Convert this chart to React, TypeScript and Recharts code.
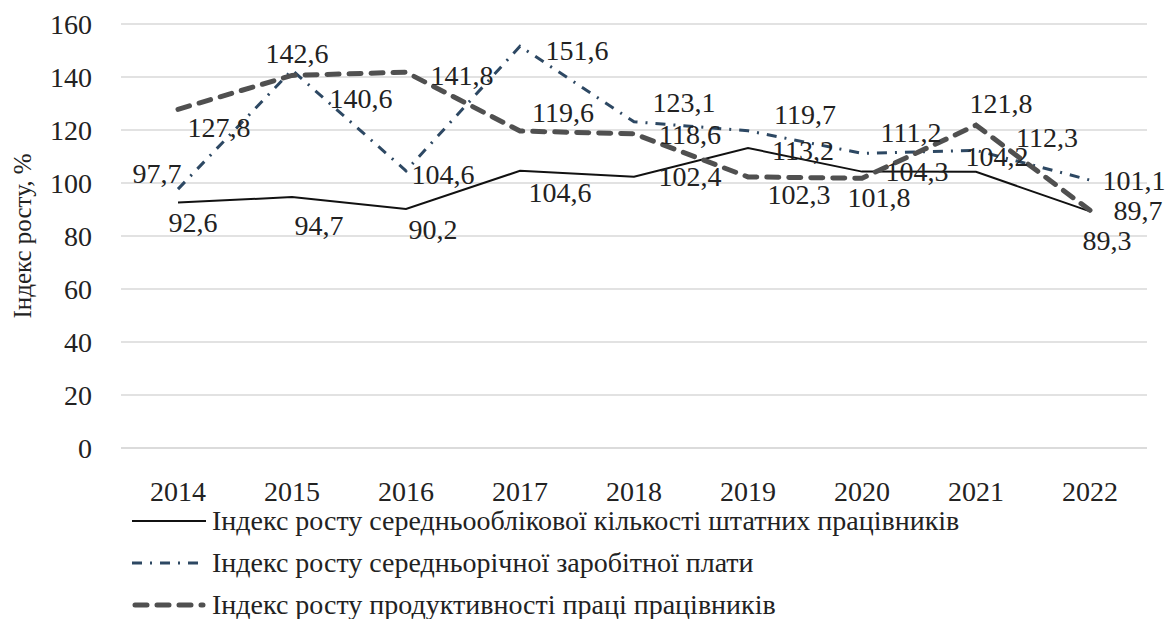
import { LineChart, Line, XAxis, YAxis, CartesianGrid, Legend } from "recharts";

const years = ["2014", "2015", "2016", "2017", "2018", "2019", "2020", "2021", "2022"];
const staffIndex = [92.6, 94.7, 90.2, 104.6, 102.4, 113.2, 104.3, 104.2, 89.3];
const wageIndex = [97.7, 142.6, 104.6, 151.6, 123.1, 119.7, 111.2, 112.3, 101.1];
const productivityIndex = [127.8, 140.6, 141.8, 119.6, 118.6, 102.3, 101.8, 121.8, 89.7];
const yTicks = [0, 20, 40, 60, 80, 100, 120, 140, 160];

const seriesNames = {
  staff: "Індекс росту середньооблікової кількості штатних працівників",
  wage: "Індекс росту середньорічної заробітної плати",
  productivity: "Індекс росту продуктивності праці працівників",
};

// label placement (dx, dy from the point), as in the original
const staffLabelOffsets = [[15, 20], [27, 28], [27, 21], [40, 22], [56, 0], [55, 2], [55, 0], [21, -15], [17, 29]];
const wageLabelOffsets = [[-21, -16], [5, -17], [37, 4], [57, 4], [50, -19], [57, -16], [49, -21], [71, -13], [44, 0]];
const productivityLabelOffsets = [[41, 18], [69, 23], [56, 3], [43, -19], [56, 1], [51, 18], [17, 19], [25, -22], [48, 0]];

const data = years.map((year, i) => ({
  year,
  staff: staffIndex[i],
  wage: wageIndex[i],
  productivity: productivityIndex[i],
}));

const FONT = "Liberation Serif, DejaVu Serif, serif";
const TEXT = "#222";

const fmt = (v: number) => v.toFixed(1).replace(".", ",");

const makeLabel = (offsets: number[][]) => (props: any) => {
  const { x, y, value, index } = props;
  const [dx, dy] = offsets[index] || [0, 0];
  return (
    <text
      x={x + dx}
      y={y + dy}
      textAnchor="middle"
      dominantBaseline="central"
      style={{ fontFamily: FONT }}
      fontSize={28}
      fill={TEXT}
    >
      {fmt(value)}
    </text>
  );
};

const YTitle = () => (
  <text
    x={22}
    y={236}
    transform="rotate(-90, 22, 236)"
    textAnchor="middle"
    dominantBaseline="central"
    style={{ fontFamily: FONT }}
    fontSize={25}
    fill={TEXT}
  >
    Індекс росту, %
  </text>
);

const legendItems = [
  { name: seriesNames.staff, stroke: "#111", width: 2, dash: undefined, cap: "butt" },
  { name: seriesNames.wage, stroke: "#2d4863", width: 3, dash: "10 8 2 8", cap: "butt" },
  { name: seriesNames.productivity, stroke: "#505050", width: 5, dash: "12 10", cap: "round" },
];

const LegendContent = () => (
  <div style={{ height: 119, paddingLeft: 132, fontFamily: FONT, fontSize: 28, color: TEXT }}>
    {legendItems.map((item) => (
      <div key={item.name} style={{ height: 42, lineHeight: "42px", display: "flex", alignItems: "center", whiteSpace: "nowrap" }}>
        <svg width={74} height={10} style={{ marginRight: 6 }}>
          <line
            x1={item.cap === "round" ? 3 : 0}
            y1={5}
            x2={item.cap === "round" ? 71 : 74}
            y2={5}
            stroke={item.stroke}
            strokeWidth={item.width}
            strokeDasharray={item.dash}
            strokeLinecap={item.cap as any}
          />
        </svg>
        <span>{item.name}</span>
      </div>
    ))}
  </div>
);

export default function App() {
  return (
    <div style={{ position: "absolute", left: 0, top: 0, background: "#fff", fontFamily: FONT }}>
      <LineChart width={1171} height={619} data={data} margin={{ top: 24, right: 24, left: 0, bottom: 0 }} style={{ fontFamily: FONT }}>
        <CartesianGrid vertical={false} stroke="#d9d9d9" strokeWidth={1.5} />
        <XAxis
          dataKey="year"
          padding={{ left: 57, right: 57 }}
          height={52}
          axisLine={{ stroke: "#d9d9d9", strokeWidth: 1.5 }}
          tickLine={false}
          tickMargin={27}
          tick={{ fontFamily: FONT, fontSize: 28, fill: TEXT }}
          interval={0}
        />
        <YAxis
          width={121}
          domain={[0, 160]}
          ticks={yTicks}
          axisLine={false}
          tickLine={false}
          tickMargin={23}
          tick={{ fontFamily: FONT, fontSize: 28, fill: TEXT }}
          label={<YTitle />}
        />
        <Legend verticalAlign="bottom" align="left" content={<LegendContent />} />
        <Line
          dataKey="staff"
          name={seriesNames.staff}
          stroke="#111"
          strokeWidth={2}
          dot={false}
          isAnimationActive={false}
          label={makeLabel(staffLabelOffsets)}
        />
        <Line
          dataKey="wage"
          name={seriesNames.wage}
          stroke="#2d4863"
          strokeWidth={3}
          strokeDasharray="10 8 2 8"
          dot={false}
          isAnimationActive={false}
          label={makeLabel(wageLabelOffsets)}
        />
        <Line
          dataKey="productivity"
          name={seriesNames.productivity}
          stroke="#505050"
          strokeWidth={5}
          strokeDasharray="12 10"
          strokeLinecap="round"
          dot={false}
          isAnimationActive={false}
          label={makeLabel(productivityLabelOffsets)}
        />
      </LineChart>
    </div>
  );
}
